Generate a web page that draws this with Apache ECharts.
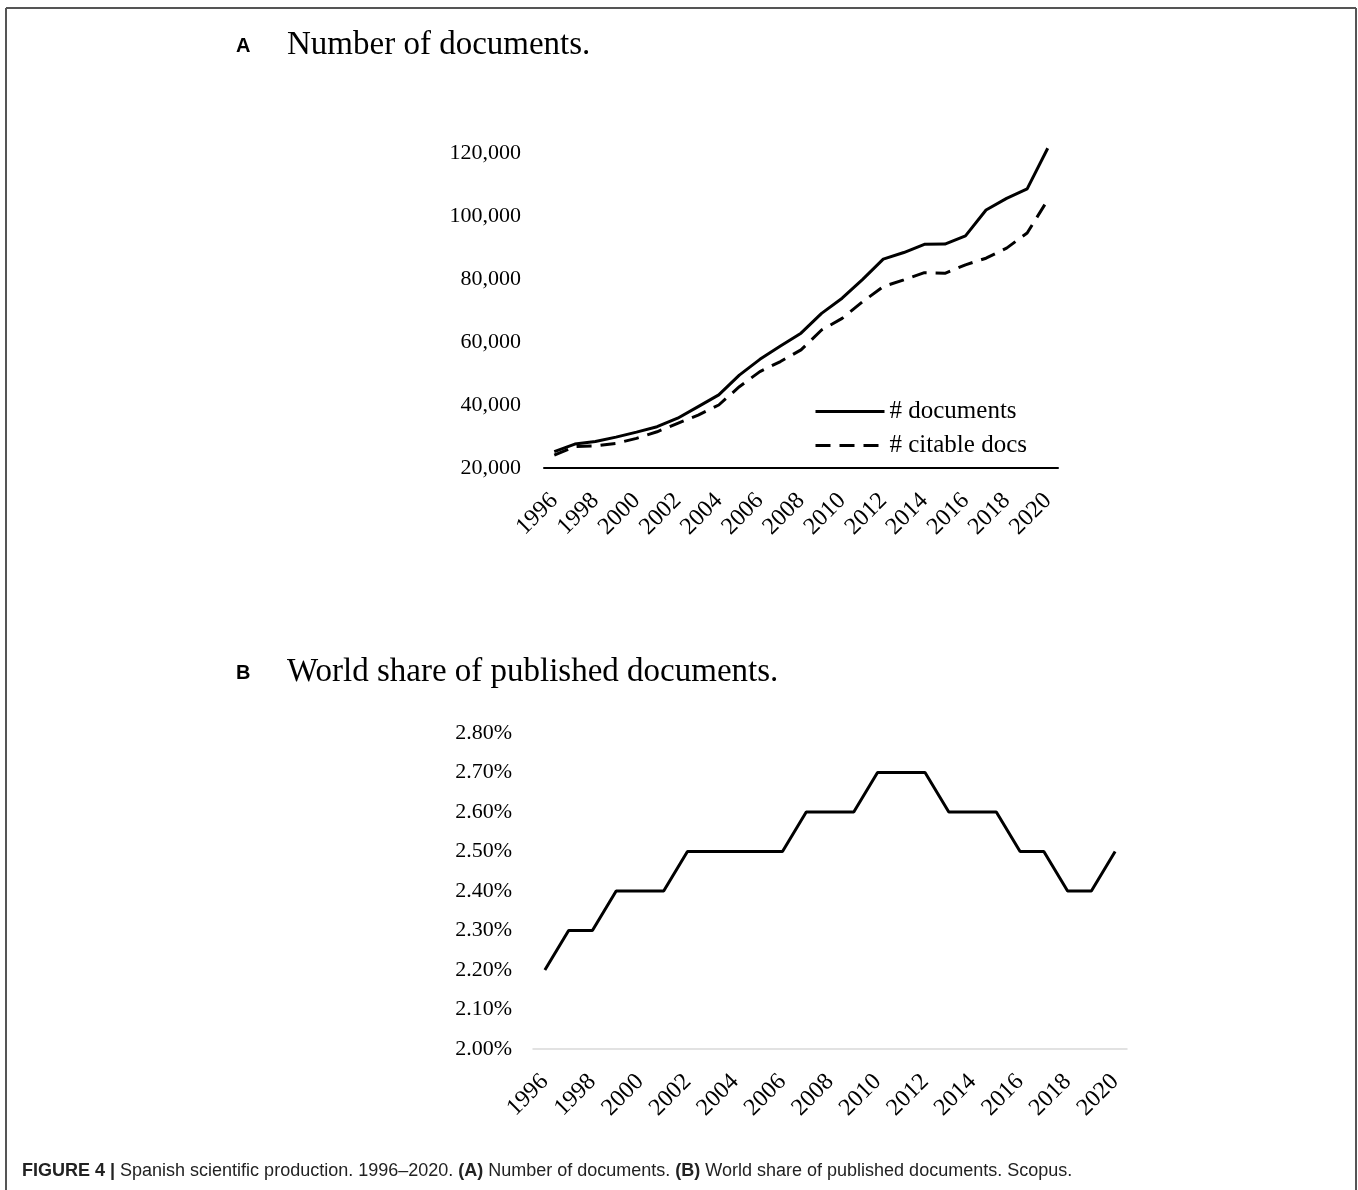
<!DOCTYPE html>
<html>
<head>
<meta charset="utf-8">
<script src="https://cdn.jsdelivr.net/npm/echarts@6/dist/echarts.min.js"></script>
<style>
html,body{margin:0;padding:0;background:#fff;}
#c{width:1358px;height:1190px;}
</style>
</head>
<body>
<div id="c"></div>
<script>
const years = ['1996','1997','1998','1999','2000','2001','2002','2003','2004','2005','2006','2007','2008','2009','2010','2011','2012','2013','2014','2015','2016','2017','2018','2019','2020'];
const documents = [25200,27600,28400,29800,31400,33100,35800,39500,43200,49500,54500,58700,62800,69100,73900,79900,86300,88400,91000,91100,93700,101900,105600,108600,121500];
const citableDocs = [24100,26800,27000,27800,29400,31500,34200,36800,40000,45800,50600,53800,57500,63800,67500,72800,77600,79700,82000,81800,84500,86600,89800,94600,105100];
const worldShare = [2.2,2.3,2.3,2.4,2.4,2.4,2.5,2.5,2.5,2.5,2.5,2.6,2.6,2.6,2.7,2.7,2.7,2.6,2.6,2.6,2.5,2.5,2.4,2.4,2.5];
const titleA = 'Number of documents.';
const titleB = 'World share of published documents.';

const SERIF = '"Liberation Serif", "DejaVu Serif", serif';
const SANS = '"Liberation Sans", Arial, sans-serif';

const chart = echarts.init(document.getElementById('c'), null, {renderer:'canvas'});
const xLabel = {rotate:45, interval:1, fontFamily:SERIF, fontSize:24, color:'#000', margin:29};
const yLabel = {fontFamily:SERIF, fontSize:22, color:'#000'};

chart.setOption({
  animation:false,
  backgroundColor:'#fff',
  grid:[
    {left:544, right:300, top:153, bottom:722},
    {left:533, right:231, top:733, bottom:141}
  ],
  legend:{
    data:['# documents','# citable docs'],
    orient:'vertical', left:809, top:394, itemWidth:69, itemHeight:20, itemGap:9,
    itemStyle:{color:'transparent', borderColor:'transparent', borderWidth:0, opacity:0},
    lineStyle:{width:3},
    textStyle:{fontFamily:SERIF, fontSize:25, color:'#000', padding:[0,0,0,0]}
  },
  xAxis:[
    {type:'category', gridIndex:0, data:years, boundaryGap:true,
     axisLine:{lineStyle:{color:'#000', width:2}}, axisTick:{show:false}, axisLabel:xLabel},
    {type:'category', gridIndex:1, data:years, boundaryGap:true,
     axisLine:{lineStyle:{color:'#d9d9d9', width:1.5}}, axisTick:{show:false}, axisLabel:xLabel}
  ],
  yAxis:[
    {type:'value', gridIndex:0, min:20000, max:120000, interval:20000,
     axisLine:{show:false}, axisTick:{show:false}, splitLine:{show:false},
     axisLabel:Object.assign({margin:23, formatter:v=>v.toLocaleString('en-US')}, yLabel)},
    {type:'value', gridIndex:1, min:2.0, max:2.8, interval:0.1,
     axisLine:{show:false}, axisTick:{show:false}, splitLine:{show:false},
     axisLabel:Object.assign({margin:21, formatter:v=>v.toFixed(2)+'%'}, yLabel)}
  ],
  series:[
    {name:'# documents', type:'line', xAxisIndex:0, yAxisIndex:0, data:documents, symbol:'none', clip:false,
     lineStyle:{color:'#000', width:3}, itemStyle:{color:'#000'}},
    {name:'# citable docs', type:'line', xAxisIndex:0, yAxisIndex:0, data:citableDocs, symbol:'none', clip:false,
     lineStyle:{color:'#000', width:3, type:[15,9]}, itemStyle:{color:'#000'}},
    {name:'World share', type:'line', xAxisIndex:1, yAxisIndex:1, data:worldShare, symbol:'none', clip:false,
     lineStyle:{color:'#000', width:3}, itemStyle:{color:'#000'}}
  ],
  graphic:[
    {type:'line', shape:{x1:6,y1:8,x2:1356,y2:8}, style:{stroke:'#555', lineWidth:2}},
    {type:'line', shape:{x1:6,y1:8,x2:6,y2:1190}, style:{stroke:'#555', lineWidth:2}},
    {type:'line', shape:{x1:1356,y1:8,x2:1356,y2:1190}, style:{stroke:'#555', lineWidth:2}},
    {type:'text', left:236, top:36, style:{text:'A', font:'bold 20px '+SANS, fill:'#000'}},
    {type:'text', left:287, top:29, style:{text:titleA, font:'33px '+SERIF, fill:'#000'}},
    {type:'text', left:236, top:663, style:{text:'B', font:'bold 20px '+SANS, fill:'#000'}},
    {type:'text', left:287, top:656, style:{text:titleB, font:'33px '+SERIF, fill:'#000'}},
    {type:'text', left:22, top:1162, style:{
      text:'{b|FIGURE 4 |} Spanish scientific production. 1996–2020. {b|(A)} Number of documents. {b|(B)} World share of published documents. Scopus.',
      font:'18px '+SANS, fill:'#222',
      rich:{b:{fontWeight:'bold', fontFamily:SANS, fontSize:18, fill:'#222'}}
    }}
  ]
});
</script>
</body>
</html>
